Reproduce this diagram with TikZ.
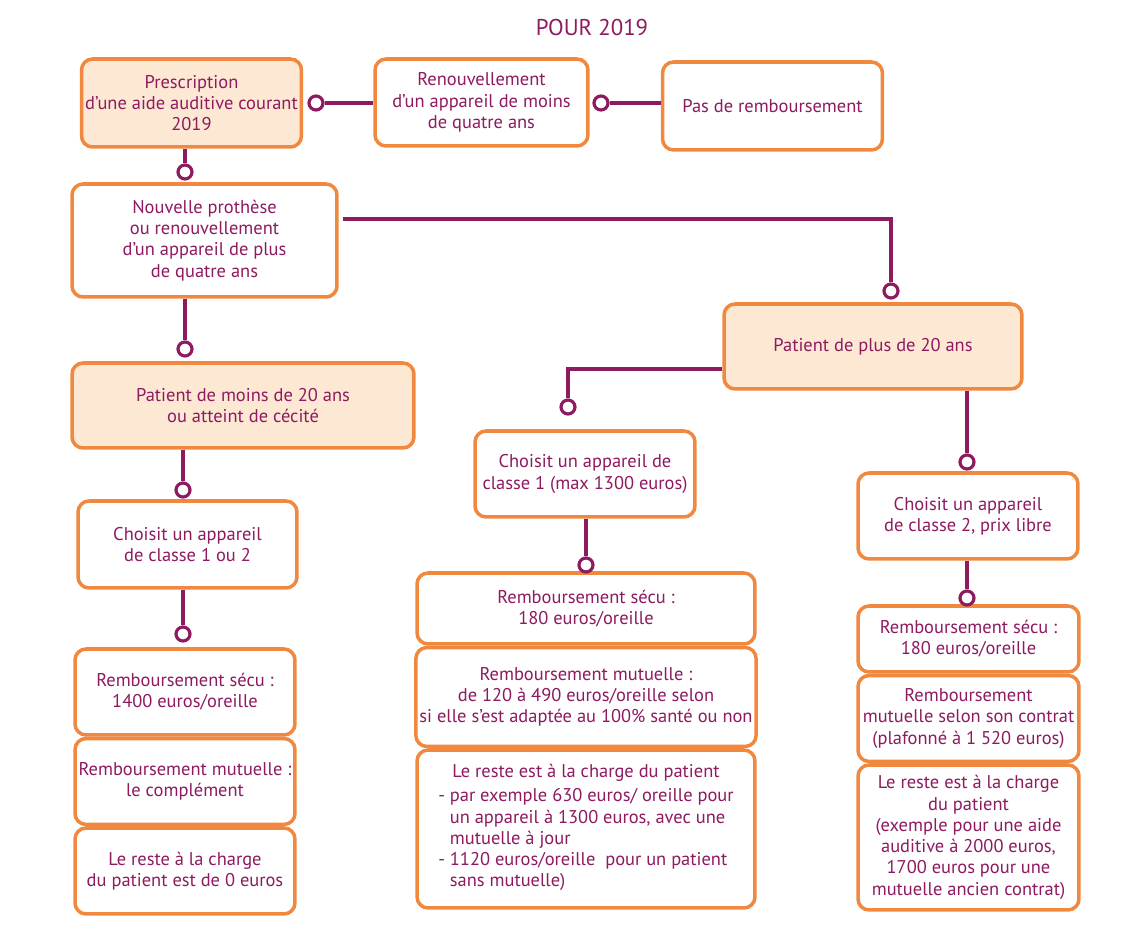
\documentclass[tikz,border=0pt]{standalone}
\usepackage{fontspec}
\setmainfont{PT Sans}
\usetikzlibrary{positioning}
\definecolor{apOrange}{HTML}{F0883F}
\definecolor{apPeach}{HTML}{FDE8D3}
\definecolor{apPlum}{HTML}{8E1A60}
\tikzset{
    every picture/.style={font=\fontsize{10.5}{12.1}\selectfont},
    % boxes of the decision tree
    choice/.style={rectangle,draw=apOrange,line width=2pt,rounded corners=0.22cm,fill=white,text=apPlum,align=center,inner sep=2pt},
    patient/.style={choice,fill=apPeach},
    % little open rings and the plum connectors
    ring/.style={circle,draw=apPlum,line width=1.8pt,fill=white,inner sep=0pt,minimum size=0.28cm},
    link/.style={draw=apPlum,line width=2.2pt}
}

\begin{document}
\begin{tikzpicture}[x=0.02cm,y=-0.02cm]
  \useasboundingbox (0,0) rectangle (1147,945);
  \node[text=apPlum,font=\fontsize{13}{15}\selectfont] (title) at (592,28) {POUR 2019};

  % top row
  \node[patient,minimum width=4.4cm,minimum height=1.76cm] (prescr) at (191.5,103) {Prescription\\d’une aide auditive courant\\2019};
  \node[choice,minimum width=4.26cm,minimum height=1.74cm] (renew) at (481.5,102.5) {Renouvellement\\d’un appareil de moins\\de quatre ans};
  \node[choice,minimum width=4.4cm,minimum height=1.76cm] (norefund) at (772.5,106) {Pas de remboursement};

  % second level
  \node[choice,minimum width=5.3cm,minimum height=2.26cm] (newaid) at (204.5,240.5) {Nouvelle prothèse\\ou renouvellement\\d’un appareil de plus\\de quatre ans};
  \node[patient,minimum width=5.96cm,minimum height=1.7cm] (over20) at (873,346.5) {Patient de plus de 20 ans};
  \node[patient,minimum width=6.84cm,minimum height=1.7cm] (under20) at (243,405.5) {Patient de moins de 20 ans\\ou atteint de cécité};

  % left branch: under 20
  \node[choice,minimum width=4.38cm,minimum height=1.74cm] (anyclass) at (187.5,544.5) {Choisit un appareil\\de classe 1 ou 2};
  \node[choice,minimum width=4.4cm,minimum height=1.72cm] (secuA) at (185,692) {Remboursement sécu :\\1400 euros/oreille};
  \node[choice,minimum width=4.4cm,minimum height=1.72cm,below=0pt of secuA] (mutA) {Remboursement mutuelle :\\le complément};
  \node[choice,minimum width=4.4cm,minimum height=1.72cm,below=0pt of mutA] (restA) {Le reste à la charge\\du patient est de 0 euros};

  % middle branch: class 1
  \node[choice,minimum width=4.4cm,minimum height=1.72cm] (class1) at (585,474) {Choisit un appareil de\\classe 1 (max 1300 euros)};
  \node[choice,minimum width=6.76cm,minimum height=1.42cm] (secuB) at (586,608.5) {Remboursement sécu :\\180 euros/oreille};
  \node[choice,minimum width=6.76cm,minimum height=1.98cm,below=0pt of secuB] (mutB) {Remboursement mutuelle :\\de 120 à 490 euros/oreille selon\\si elle s’est adaptée au 100\% santé ou non};
  \node[choice,minimum width=6.76cm,minimum height=3.16cm,below=0pt of mutB] (restB) {Le reste est à la charge du patient\\[2pt]
    \begin{tabular}{@{}l@{\ }l@{}}
    - & par exemple 630 euros/ oreille pour\\
      & un appareil à 1300 euros, avec une\\
      & mutuelle à jour\\
    - & 1120 euros/oreille \ pour un patient\\
      & sans mutuelle)
    \end{tabular}};

  % right branch: class 2
  \node[choice,minimum width=4.4cm,minimum height=1.72cm] (class2) at (968,516) {Choisit un appareil\\de classe 2, prix libre};
  \node[choice,minimum width=4.42cm,minimum height=1.32cm] (secuC) at (968.5,639) {Remboursement sécu :\\180 euros/oreille};
  \node[choice,minimum width=4.42cm,minimum height=1.72cm,below=0pt of secuC] (mutC) {Remboursement\\mutuelle selon son contrat\\(plafonné à 1 520 euros)};
  \node[choice,minimum width=4.42cm,minimum height=2.9cm,below=0pt of mutC] (restC) {Le reste est à la charge\\du patient\\(exemple pour une aide\\auditive à 2000 euros,\\1700 euros pour une\\mutuelle ancien contrat)};

  % rings
  \node[ring] (r1) at (316,103) {};
  \node[ring] (r2) at (601,103) {};
  \node[ring] (r3) at (185,172) {};
  \node[ring] (r4) at (891,291) {};
  \node[ring] (r5) at (185,349) {};
  \node[ring] (r6) at (183,490) {};
  \node[ring] (r7) at (183,634) {};
  \node[ring] (r8) at (568,407) {};
  \node[ring] (r9) at (586,565) {};
  \node[ring] (r10) at (967,462) {};
  \node[ring] (r11) at (967,598) {};

  % connectors
  \draw[link] (r1) -- (r1 -| renew.west);
  \draw[link] (r2) -- (r2 -| norefund.west);
  \draw[link] (prescr.south -| r3) -- (r3);
  \draw[link] ([shift={(0.08cm,0.43cm)}]newaid.east) -| (r4);
  \draw[link] (newaid.south -| r5) -- (r5);
  \draw[link] (under20.south -| r6) -- (r6);
  \draw[link] (anyclass.south -| r7) -- (r7);
  \draw[link] ([yshift=-0.45cm]over20.west) -| (r8);
  \draw[link] (class1.south -| r9) -- (r9);
  \draw[link] (over20.south -| r10) -- (r10);
  \draw[link] (class2.south -| r11) -- (r11);
\end{tikzpicture}
\end{document}
